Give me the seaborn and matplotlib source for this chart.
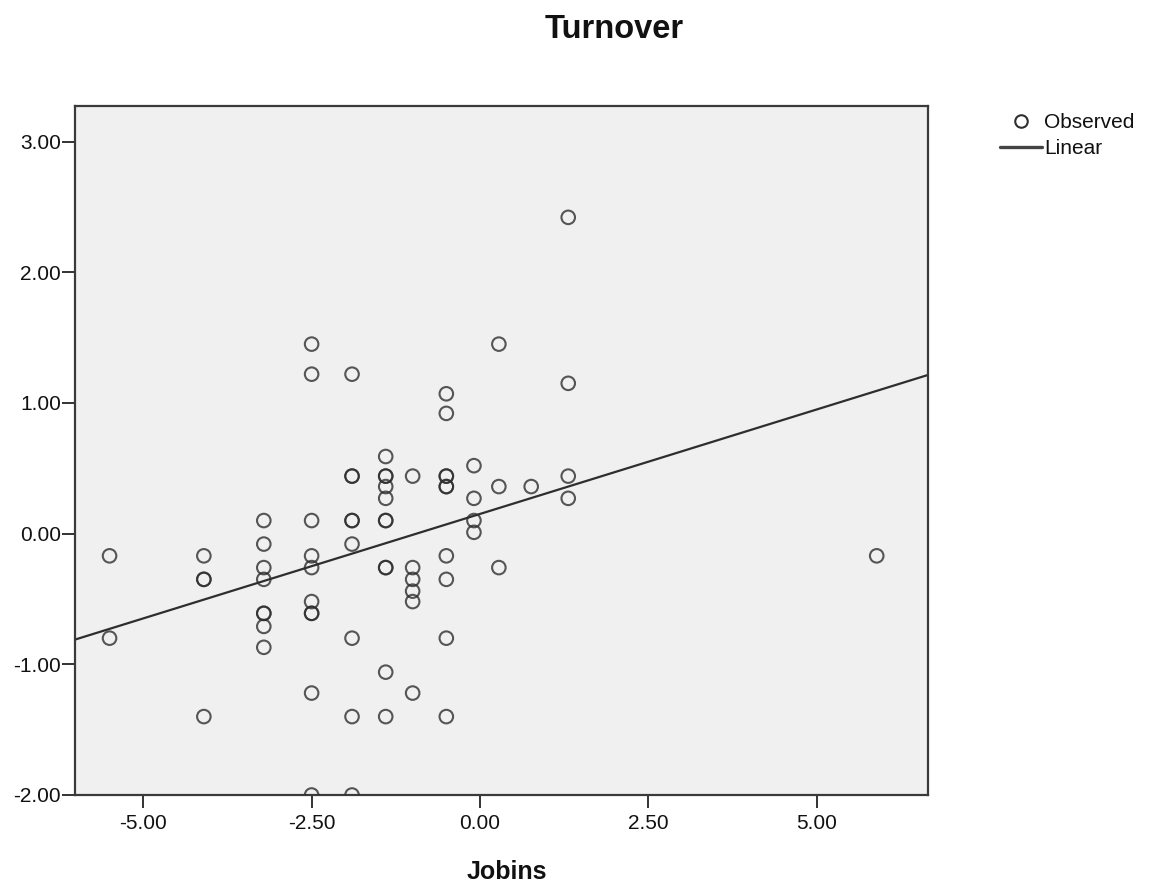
import numpy as np
import pandas as pd
import matplotlib
matplotlib.use("Agg")
import matplotlib.pyplot as plt
import seaborn as sns
from matplotlib.lines import Line2D

# ---- data ----
jobins_levels = [-5.50, -4.10, -3.21, -2.50, -1.90, -1.40, -1.00, -0.50, -0.09, 0.28, 0.76, 1.31, 5.89]
turnover_m550 = [-0.17, -0.80]
turnover_m410 = [-0.17, -0.35, -0.35, -1.40]
turnover_m321 = [0.10, -0.08, -0.26, -0.35, -0.61, -0.61, -0.71, -0.87]
turnover_m250 = [1.45, 1.22, 0.10, -0.17, -0.26, -0.52, -0.61, -0.61, -1.22, -2.00]
turnover_m190 = [1.22, 0.44, 0.44, 0.10, 0.10, -0.08, -0.80, -1.40, -2.00]
turnover_m140 = [0.59, 0.44, 0.44, 0.36, 0.27, 0.10, 0.10, -0.26, -0.26, -1.06, -1.40]
turnover_m100 = [0.44, -0.26, -0.35, -0.44, -0.52, -1.22]
turnover_m050 = [1.07, 0.92, 0.44, 0.44, 0.36, 0.36, -0.17, -0.35, -0.80, -1.40]
turnover_m009 = [0.52, 0.27, 0.10, 0.01]
turnover_p028 = [1.45, 0.36, -0.26]
turnover_p076 = [0.36]
turnover_p131 = [2.42, 1.15, 0.44, 0.27]
turnover_p589 = [-0.17]

turnover_groups = [turnover_m550, turnover_m410, turnover_m321, turnover_m250, turnover_m190,
                   turnover_m140, turnover_m100, turnover_m050, turnover_m009, turnover_p028,
                   turnover_p076, turnover_p131, turnover_p589]

x_ticks = [-5.0, -2.5, 0.0, 2.5, 5.0]
y_ticks = [-2.0, -1.0, 0.0, 1.0, 2.0, 3.0]

rows = []
for xv, ys in zip(jobins_levels, turnover_groups):
    for yv in ys:
        rows.append((xv, yv))
df = pd.DataFrame(rows, columns=["Jobins", "Turnover"])

# ---- style ----
sns.set_theme(style="white")
plt.rcParams["font.family"] = ["Liberation Sans", "DejaVu Sans"]

W, H = 1150, 884
fig = plt.figure(figsize=(W / 100, H / 100), dpi=100)
ax = fig.add_axes([75 / W, 1 - 795 / H, (927.5 - 75) / W, (795 - 106) / H])
ax.set_facecolor("#f0f0f0")

ax.set_xlim(-6.013, 6.644)
ax.set_ylim(-2.0, 3.272)

dark = "#2e2e2e"
sns.regplot(data=df, x="Jobins", y="Turnover", ax=ax, ci=None, truncate=False,
            marker="o",
            scatter_kws=dict(s=95, facecolors="none", edgecolors=dark, linewidths=1.5, zorder=3),
            line_kws=dict(color=dark, linewidth=1.6, zorder=2))

ax.set_xlim(-6.013, 6.644)
ax.set_ylim(-2.0, 3.272)

ax.set_xticks(x_ticks)
ax.set_yticks(y_ticks)
ax.set_xticklabels([f"{v:.2f}" for v in x_ticks])
ax.set_yticklabels([f"{v:.2f}" for v in y_ticks])
ax.tick_params(axis="both", which="major", direction="out", length=9.5, width=1.4,
               color="#333333", labelsize=15, labelcolor="#111111",
               bottom=True, left=True)
ax.tick_params(axis="y", pad=0.5)
ax.tick_params(axis="x", pad=4)
ax.set_xlabel("")
ax.set_ylabel("")

for side in ["left", "right", "top", "bottom"]:
    ax.spines[side].set_visible(True)
    ax.spines[side].set_color("#3a3a3a")
    ax.spines[side].set_linewidth(1.6)

# ---- titles ----
fig.text(614 / W, 1 - 38 / H, "Turnover", ha="center", va="baseline",
         fontsize=23.5, fontweight="bold", color="#111111")
fig.text(507 / W, 1 - 879 / H, "Jobins", ha="center", va="baseline",
         fontsize=18, fontweight="bold", color="#111111")

# ---- legend ----
handles = [
    Line2D([], [], marker="o", linestyle="none", markerfacecolor="none",
           markeredgecolor=dark, markersize=9, markeredgewidth=1.5),
    Line2D([], [], color="#444444", linewidth=2.4),
]
leg = ax.legend(handles, ["Observed", "Linear"], loc="upper left",
                bbox_to_anchor=(1000 / W, 1 - 113 / H), bbox_transform=fig.transFigure,
                frameon=False, borderpad=0, borderaxespad=0, handlelength=2.0,
                handletextpad=0.1, labelspacing=0.35, fontsize=15)
for t in leg.get_texts():
    t.set_color("#111111")

fig.savefig("out.png", dpi=100)
